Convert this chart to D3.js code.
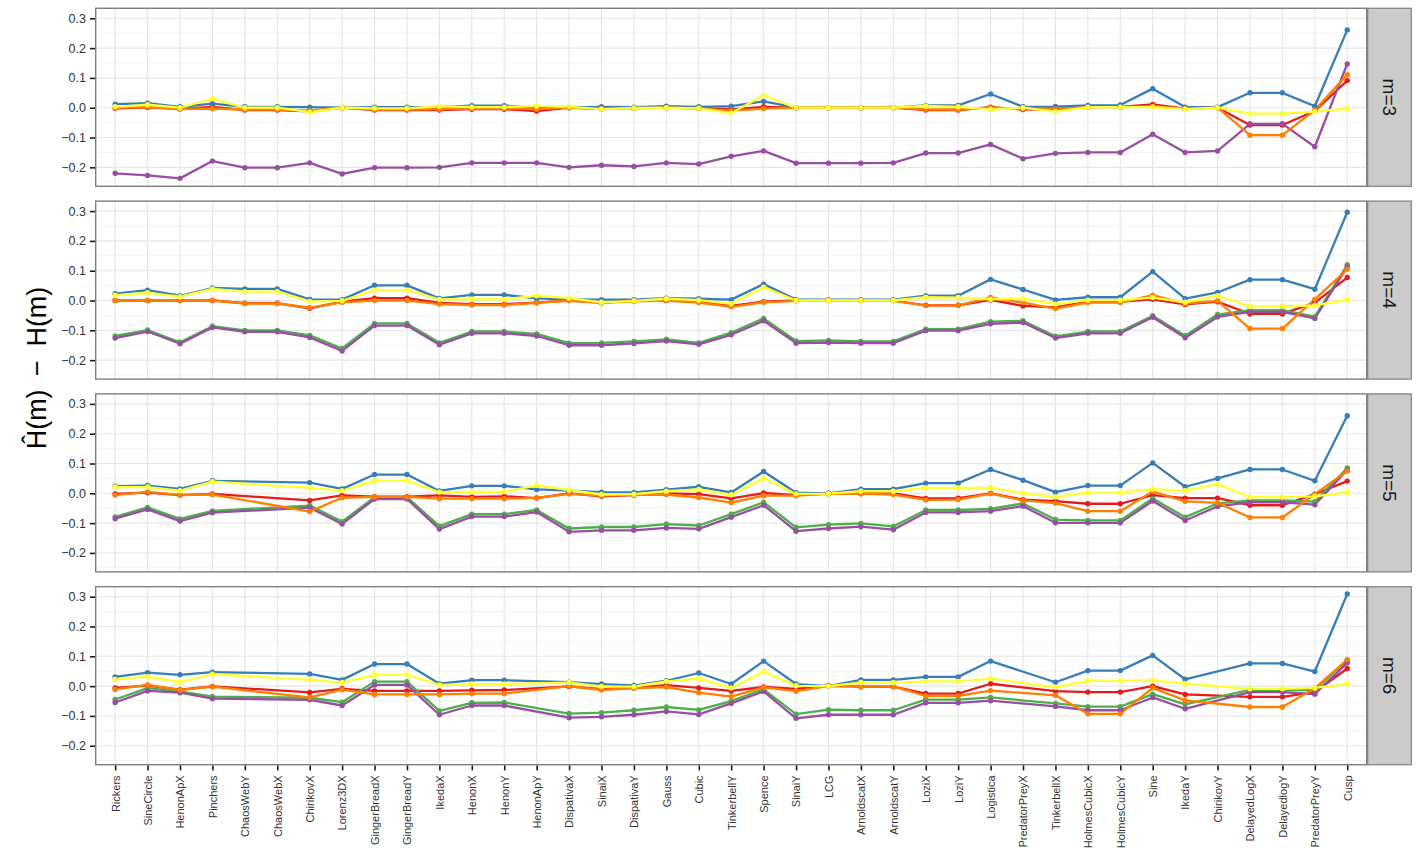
<!DOCTYPE html>
<html><head><meta charset="utf-8">
<script src="https://cdn.jsdelivr.net/npm/d3@7"></script>
<style>body{margin:0;background:#fff;} svg{display:block;font-family:"Liberation Sans",Arial,sans-serif;}</style>
</head><body>
<svg id="chart" width="1419" height="855"></svg>
<script>
const categories = ["Rickers","SineCircle","HenonApX","Pinchers","ChaosWebY","ChaosWebX","ChirikovX","Lorenz3DX","GingerBreadX","GingerBreadY","IkedaX","HenonX","HenonY","HenonApY","DispativaX","SinaiX","DispativaY","Gauss","Cubic","TinkerbellY","Spence","SinaiY","LCG","ArnoldscatX","ArnoldscatY","LoziX","LoziY","Logistica","PredatorPreyX","TinkerbellX","HolmesCubicX","HolmesCubicY","Sine","IkedaY","ChirikovY","DelayedLogX","DelayedlogY","PredatorPreyY","Cusp"];
const facets = ["m=3","m=4","m=5","m=6"];
const yTicks = [-0.2,-0.1,0.0,0.1,0.2,0.3];
const yTickLabels = ["\u22120.2","\u22120.1","0.0","0.1","0.2","0.3"];
const yTitle = "H\u0302(m)\u2002\u2212\u2002H(m)";
const seriesNames = ["red","blue","green","purple","orange","yellow"];
const seriesColors = ["#E41A1C","#377EB8","#4DAF4A","#984EA3","#FF7F00","#FFFF33"];

// m=3
const red_m3    = [-0.002,0.001,-0.004,0.003,-0.008,-0.008,-0.012,0.000,-0.008,-0.008,-0.008,-0.005,-0.005,-0.011,0.000,-0.005,0.000,0.000,-0.002,-0.006,0.003,0.000,0.000,0.000,0.000,-0.008,-0.008,0.002,-0.006,-0.005,0.003,0.003,0.011,-0.003,0.000,-0.058,-0.058,-0.011,0.091];
const blue_m3   = [0.012,0.015,0.003,0.014,0.003,0.003,0.002,0.000,0.002,0.002,0.003,0.007,0.007,0.000,0.001,0.003,0.002,0.005,0.003,0.005,0.021,0.000,0.000,0.000,0.000,0.008,0.008,0.046,0.003,0.004,0.008,0.009,0.064,0.002,0.002,0.050,0.050,0.005,0.261];
const green_m3  = [null,null,null,null,null,null,null,null,null,null,null,null,null,null,null,null,null,null,null,null,null,null,null,null,null,null,null,null,null,null,null,null,null,null,null,null,null,null,null];
const purple_m3 = [-0.220,-0.227,-0.237,-0.179,-0.201,-0.201,-0.185,-0.222,-0.201,-0.201,-0.200,-0.185,-0.185,-0.185,-0.200,-0.193,-0.197,-0.185,-0.189,-0.163,-0.145,-0.186,-0.186,-0.186,-0.185,-0.152,-0.152,-0.123,-0.171,-0.153,-0.150,-0.150,-0.089,-0.150,-0.145,-0.054,-0.054,-0.131,0.147];
const orange_m3 = [0.000,0.002,-0.004,-0.003,-0.006,-0.006,-0.010,0.000,-0.006,-0.006,-0.005,-0.003,-0.003,-0.005,0.000,-0.004,-0.002,0.000,-0.002,-0.010,-0.003,0.000,0.000,0.000,0.000,-0.006,-0.006,0.000,-0.004,-0.004,0.002,0.002,0.005,-0.003,0.000,-0.092,-0.092,-0.008,0.111];
const yellow_m3 = [0.003,0.010,0.000,0.030,0.000,0.000,-0.015,0.000,-0.002,-0.002,0.005,0.002,0.002,0.006,0.003,-0.005,-0.001,0.000,-0.002,-0.018,0.041,0.000,0.000,0.000,0.000,0.006,0.003,-0.006,0.000,-0.013,0.002,0.002,0.002,-0.005,0.000,-0.020,-0.020,-0.013,-0.003];

// m=4
const red_m4    = [0.000,0.000,0.000,0.000,-0.009,-0.009,-0.026,-0.004,0.008,0.008,-0.008,-0.012,-0.012,-0.007,0.000,-0.007,0.000,0.000,-0.004,-0.018,-0.004,0.000,0.000,0.000,0.000,-0.016,-0.016,0.002,-0.018,-0.023,-0.004,-0.004,0.004,-0.013,-0.004,-0.045,-0.045,-0.007,0.077];
const blue_m4   = [0.023,0.035,0.016,0.042,0.039,0.039,0.004,0.003,0.051,0.051,0.007,0.019,0.019,0.007,0.004,0.003,0.003,0.008,0.006,0.003,0.055,0.003,0.003,0.003,0.003,0.016,0.016,0.071,0.037,0.002,0.011,0.011,0.097,0.006,0.027,0.070,0.070,0.038,0.296];
const green_m4  = [-0.119,-0.099,-0.140,-0.086,-0.100,-0.100,-0.117,-0.161,-0.077,-0.077,-0.142,-0.104,-0.104,-0.112,-0.143,-0.142,-0.137,-0.130,-0.142,-0.108,-0.060,-0.136,-0.134,-0.137,-0.137,-0.096,-0.096,-0.071,-0.068,-0.120,-0.104,-0.104,-0.051,-0.118,-0.047,-0.032,-0.032,-0.054,0.120];
const purple_m4 = [-0.126,-0.104,-0.145,-0.090,-0.105,-0.105,-0.124,-0.169,-0.084,-0.084,-0.148,-0.110,-0.110,-0.119,-0.150,-0.150,-0.144,-0.136,-0.147,-0.115,-0.068,-0.143,-0.141,-0.143,-0.143,-0.101,-0.101,-0.078,-0.074,-0.126,-0.110,-0.110,-0.056,-0.125,-0.055,-0.038,-0.038,-0.060,0.113];
const orange_m4 = [0.000,0.000,0.000,0.000,-0.010,-0.010,-0.024,-0.006,0.000,0.000,-0.012,-0.015,-0.015,-0.008,0.000,-0.008,-0.003,0.000,-0.007,-0.021,-0.006,-0.001,0.000,0.000,0.000,-0.017,-0.016,0.010,-0.007,-0.027,-0.007,-0.007,0.018,-0.010,-0.001,-0.094,-0.094,0.004,0.105];
const yellow_m4 = [0.018,0.026,0.013,0.039,0.030,0.030,-0.003,-0.001,0.035,0.035,0.004,0.005,0.004,0.016,0.008,-0.006,-0.001,0.006,0.001,-0.011,0.045,0.000,0.000,0.000,0.000,0.011,0.010,0.004,0.006,-0.012,0.001,0.001,0.010,-0.006,0.016,-0.020,-0.020,-0.016,0.002];

// m=5
const red_m5    = [-0.002,0.002,-0.006,-0.002,null,null,-0.024,-0.007,-0.011,-0.011,-0.007,-0.012,-0.010,-0.016,0.000,-0.010,-0.006,0.000,-0.003,-0.017,0.001,-0.006,0.000,0.000,0.000,-0.017,-0.016,0.000,-0.021,-0.026,-0.035,-0.035,-0.006,-0.016,-0.016,-0.040,-0.040,-0.003,0.041];
const blue_m5   = [0.024,0.026,0.015,0.042,null,null,0.036,0.015,0.063,0.063,0.008,0.025,0.025,0.013,0.009,0.004,0.003,0.012,0.022,0.003,0.073,0.002,0.000,0.014,0.014,0.034,0.034,0.080,0.044,0.004,0.026,0.026,0.102,0.022,0.050,0.080,0.080,0.042,0.260];
const green_m5  = [-0.079,-0.047,-0.086,-0.059,null,null,-0.041,-0.095,-0.013,-0.013,-0.110,-0.070,-0.070,-0.056,-0.118,-0.113,-0.113,-0.103,-0.108,-0.070,-0.030,-0.114,-0.105,-0.101,-0.111,-0.056,-0.056,-0.052,-0.034,-0.088,-0.091,-0.091,-0.017,-0.080,-0.034,-0.024,-0.024,-0.028,0.085];
const purple_m5 = [-0.085,-0.054,-0.093,-0.065,null,null,-0.048,-0.103,-0.019,-0.019,-0.120,-0.078,-0.078,-0.063,-0.129,-0.124,-0.124,-0.116,-0.119,-0.080,-0.040,-0.127,-0.118,-0.112,-0.122,-0.064,-0.064,-0.060,-0.043,-0.099,-0.099,-0.099,-0.026,-0.091,-0.044,-0.030,-0.030,-0.038,0.078];
const orange_m5 = [-0.006,0.005,-0.005,-0.004,null,null,-0.061,-0.015,-0.012,-0.012,-0.018,-0.018,-0.018,-0.015,-0.002,-0.008,-0.005,-0.004,-0.014,-0.031,-0.008,-0.008,-0.002,-0.002,-0.004,-0.022,-0.021,-0.001,-0.024,-0.033,-0.060,-0.060,0.006,-0.027,-0.032,-0.081,-0.081,-0.003,0.075];
const yellow_m5 = [0.021,0.021,0.009,0.039,null,null,0.018,0.009,0.042,0.042,0.004,0.005,0.005,0.027,0.011,-0.004,-0.003,0.007,0.013,-0.005,0.051,-0.002,-0.001,0.007,0.007,0.018,0.018,0.018,0.000,-0.012,0.002,0.002,0.014,0.009,0.031,-0.013,-0.013,-0.010,0.003];

// m=6
const red_m6    = [-0.006,0.002,-0.012,-0.001,null,null,-0.021,-0.009,-0.016,-0.016,-0.016,-0.014,-0.013,null,-0.001,-0.010,-0.006,0.003,-0.006,-0.016,-0.003,-0.009,0.002,-0.002,-0.002,-0.025,-0.025,0.008,null,-0.017,-0.020,-0.020,0.000,-0.028,null,-0.036,-0.036,-0.020,0.059];
const blue_m6   = [0.031,0.045,0.038,0.047,null,null,0.041,0.021,0.074,0.074,0.008,0.020,0.020,null,0.013,0.007,0.002,0.018,0.044,0.007,0.084,0.007,0.000,0.021,0.021,0.031,0.031,0.084,null,0.013,0.052,0.052,0.103,0.023,null,0.076,0.076,0.049,0.309];
const green_m6  = [-0.045,-0.007,-0.018,-0.035,null,null,-0.039,-0.054,0.015,0.015,-0.083,-0.056,-0.055,null,-0.092,-0.089,-0.081,-0.070,-0.080,-0.050,-0.011,-0.094,-0.079,-0.081,-0.081,-0.045,-0.045,-0.038,null,-0.058,-0.069,-0.069,-0.027,-0.061,null,-0.013,-0.013,-0.013,0.087];
const purple_m6 = [-0.055,-0.016,-0.022,-0.042,null,null,-0.046,-0.065,0.004,0.004,-0.096,-0.065,-0.065,null,-0.106,-0.103,-0.096,-0.085,-0.095,-0.058,-0.018,-0.108,-0.096,-0.096,-0.096,-0.056,-0.056,-0.049,null,-0.068,-0.081,-0.081,-0.038,-0.076,null,-0.020,-0.020,-0.027,0.078];
const orange_m6 = [-0.011,0.004,-0.013,-0.002,null,null,-0.038,-0.012,-0.028,-0.028,-0.028,-0.025,-0.025,null,0.000,-0.013,-0.007,-0.003,-0.022,-0.035,-0.004,-0.017,0.000,-0.001,-0.001,-0.033,-0.033,-0.015,null,-0.031,-0.093,-0.093,-0.006,-0.048,null,-0.070,-0.070,-0.007,0.089];
const yellow_m6 = [0.022,0.032,0.013,0.040,null,null,0.021,0.012,0.038,0.038,0.004,0.007,0.007,null,0.012,-0.001,-0.002,0.016,0.025,-0.006,0.048,0.001,0.000,0.012,0.012,0.016,0.016,0.025,null,-0.004,0.018,0.018,0.019,0.008,null,-0.009,-0.009,-0.006,0.007];

const facetData = [
  [red_m3, blue_m3, green_m3, purple_m3, orange_m3, yellow_m3],
  [red_m4, blue_m4, green_m4, purple_m4, orange_m4, yellow_m4],
  [red_m5, blue_m5, green_m5, purple_m5, orange_m5, yellow_m5],
  [red_m6, blue_m6, green_m6, purple_m6, orange_m6, yellow_m6]
];

const svg = d3.select("#chart");
const pLeft = 95.7, pRight = 1366.7, pTop0 = 8.3, pH = 178, pStep = 192.8;
const stripW = 43.6;

const x = d3.scalePoint().domain(categories).range([pLeft, pRight]).padding(0.6);
const yDomain = [-0.2636, 0.3335];
const minorTicks = [-0.25,-0.15,-0.05,0.05,0.15,0.25];

facets.forEach((f, fi) => {
  const top = pTop0 + fi * pStep;
  const y = d3.scaleLinear().domain(yDomain).range([top + pH, top]);
  const g = svg.append("g");
  g.append("rect").attr("x", pLeft).attr("y", top).attr("width", pRight - pLeft).attr("height", pH).attr("fill", "#fff");
  g.selectAll(".minor").data(minorTicks).join("line")
    .attr("x1", pLeft).attr("x2", pRight).attr("y1", d => y(d)).attr("y2", d => y(d))
    .attr("stroke", "#f2f2f2").attr("stroke-width", 0.8);
  g.selectAll(".majorY").data(yTicks).join("line")
    .attr("x1", pLeft).attr("x2", pRight).attr("y1", d => y(d)).attr("y2", d => y(d))
    .attr("stroke", "#e6e6e6").attr("stroke-width", 1.1);
  g.selectAll(".majorX").data(categories).join("line")
    .attr("x1", d => x(d)).attr("x2", d => x(d)).attr("y1", top).attr("y2", top + pH)
    .attr("stroke", "#e6e6e6").attr("stroke-width", 1.1);

  const lineGen = d3.line().x(d => x(d.c)).y(d => y(d.v));
  const series = facetData[fi].map((arr, si) => ({
    name: seriesNames[si], color: seriesColors[si],
    pts: arr.map((v, i) => ({c: categories[i], v})).filter(d => d.v !== null)
  }));
  series.forEach(s => {
    if (s.pts.length) g.append("path").attr("d", lineGen(s.pts)).attr("fill", "none")
      .attr("stroke", s.color).attr("stroke-width", 2.3).attr("stroke-linejoin", "round");
  });
  series.forEach(s => {
    g.selectAll(null).data(s.pts).join("circle")
      .attr("cx", d => x(d.c)).attr("cy", d => y(d.v)).attr("r", 2.7).attr("fill", s.color);
  });
  g.append("rect").attr("x", pLeft).attr("y", top).attr("width", pRight - pLeft).attr("height", pH)
    .attr("fill", "none").attr("stroke", "#7f7f7f").attr("stroke-width", 1.4);
  const yAxis = d3.axisLeft(y).tickValues(yTicks).tickSize(5).tickPadding(4)
    .tickFormat((d, i) => yTickLabels[i]);
  const ya = g.append("g").attr("transform", `translate(${pLeft - 0.7},0)`).call(yAxis);
  ya.select(".domain").remove();
  ya.selectAll(".tick line").attr("stroke", "#1a1a1a").attr("stroke-width", 1.6);
  ya.selectAll(".tick text").attr("fill", "#333").style("font-size", "12.5px")
    .style("font-family", "'Liberation Sans', Arial, sans-serif");
  g.append("rect").attr("x", pRight + 1).attr("y", top).attr("width", stripW).attr("height", pH)
    .attr("fill", "#cbcbcb").attr("stroke", "#7f7f7f").attr("stroke-width", 1.2);
  g.append("text").attr("transform", `translate(${pRight + 1 + stripW / 2},${top + pH / 2}) rotate(90)`)
    .attr("text-anchor", "middle").attr("dy", "0.35em").attr("fill", "#1a1a1a")
    .style("font-size", "19px").text(f);

  if (fi === facets.length - 1) {
    const xAxis = d3.axisBottom(x).tickSize(5).tickPadding(8);
    const xa = g.append("g").attr("transform", `translate(0,${top + pH + 0.7})`).call(xAxis);
    xa.select(".domain").remove();
    xa.selectAll(".tick line").attr("stroke", "#1a1a1a").attr("stroke-width", 1.6);
    xa.selectAll(".tick text").attr("fill", "#333").style("font-size", "11px")
      .style("font-family", "'Liberation Sans', Arial, sans-serif")
      .attr("transform", "rotate(-90)").attr("text-anchor", "end")
      .attr("x", -10).attr("y", 0).attr("dy", "0.35em");
  }
});

svg.append("text").attr("transform", `translate(37,368) rotate(-90)`)
  .attr("text-anchor", "middle").attr("dy", "0.35em").attr("fill", "#000")
  .style("font-size", "27px").text(yTitle);
</script>
</body></html>
